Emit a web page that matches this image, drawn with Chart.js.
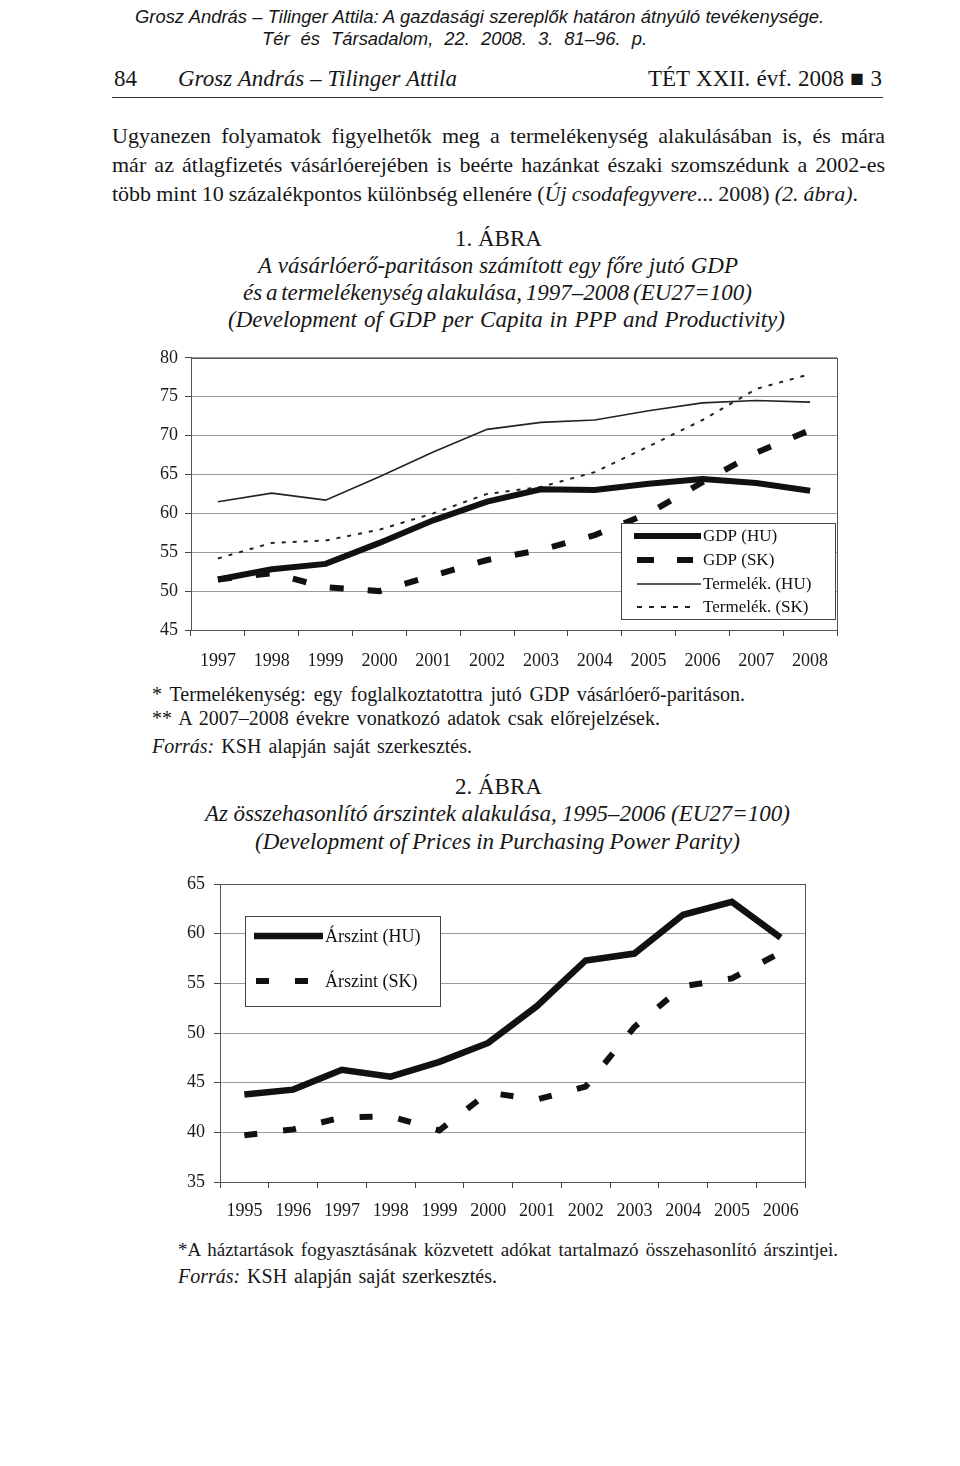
<!DOCTYPE html>
<html>
<head>
<meta charset="utf-8">
<script src="https://cdn.jsdelivr.net/npm/chart.js@4.4.1/dist/chart.umd.min.js"></script>
<style>
  body { margin: 0; background: #fff; width: 960px; height: 1466px; position: relative;
         font-family: "Liberation Serif", "Times New Roman", serif; color: #161616; overflow: hidden; }
  .t { position: absolute; white-space: nowrap; line-height: 1; }
  .j { position: absolute; white-space: nowrap; line-height: 1; }
  .sans { font-family: "Liberation Sans", Arial, sans-serif; font-style: italic; font-size: 18.4px; }
  .h { font-size: 23px; }
  .p { font-size: 22px; }
  .ti { font-size: 23px; font-style: italic; }
  .fn { font-size: 20px; }
  .rule { position: absolute; left: 112px; top: 97px; width: 771px; height: 1px; background: #333; }
  .box { position: absolute; }
</style>
</head>
<body>

<div class="j sans" data-w="689" style="left:135px; top:8px;">Grosz András – Tilinger Attila: A gazdasági szereplők határon átnyúló tevékenysége.</div>
<div class="j sans" data-w="385" style="left:262px; top:30px;">Tér és Társadalom, 22. 2008. 3. 81–96. p.</div>

<div class="t h" style="left:114px; top:67px;">84</div>
<div class="j h" data-w="279" style="left:178px; top:67px; font-style:italic;">Grosz András – Tilinger Attila</div>
<div class="j h" data-w="234" style="left:648px; top:67px;">TÉT XXII. évf. 2008 ■ 3</div>
<div class="rule"></div>

<div class="j p" data-w="773" style="left:112px; top:125px;">Ugyanezen folyamatok figyelhetők meg a termelékenység alakulásában is, és mára</div>
<div class="j p" data-w="773" style="left:112px; top:154px;">már az átlagfizetés vásárlóerejében is beérte hazánkat északi szomszédunk a 2002-es</div>
<div class="j p" data-w="746" style="left:112px; top:183px;">több mint 10 százalékpontos különbség ellenére (<i>Új csodafegyvere</i>... 2008) <i>(2. ábra)</i>.</div>

<div class="t h" style="left:455px; top:227px;">1. ÁBRA</div>
<div class="j ti" data-w="480" style="left:258px; top:254px;">A vásárlóerő-paritáson számított egy főre jutó GDP</div>
<div class="j ti" data-w="509" style="left:243px; top:281px;">és a termelékenység alakulása, 1997–2008 (EU27=100)</div>
<div class="j ti" data-w="557" style="left:228px; top:308px;">(Development of GDP per Capita in PPP and Productivity)</div>

<div class="box" style="left:150px; top:340px;"><canvas id="c1" width="700" height="340"></canvas></div>

<div class="j fn" data-w="593" style="left:152px; top:684px;">* Termelékenység: egy foglalkoztatottra jutó GDP vásárlóerő-paritáson.</div>
<div class="j fn" data-w="508" style="left:152px; top:708px;">** A 2007–2008 évekre vonatkozó adatok csak előrejelzések.</div>
<div class="j fn" data-w="320" style="left:152px; top:736px;"><i>Forrás:</i> KSH alapján saját szerkesztés.</div>

<div class="t h" style="left:455px; top:775px;">2. ÁBRA</div>
<div class="j ti" data-w="585" style="left:205px; top:802px;">Az összehasonlító árszintek alakulása, 1995–2006 (EU27=100)</div>
<div class="j ti" data-w="485" style="left:255px; top:830px;">(Development of Prices in Purchasing Power Parity)</div>

<div class="box" style="left:150px; top:860px;"><canvas id="c2" width="680" height="370"></canvas></div>

<div class="j fn" data-w="660" style="left:178px; top:1240px; font-size:19px;">*A háztartások fogyasztásának közvetett adókat tartalmazó összehasonlító árszintjei.</div>
<div class="j fn" data-w="319" style="left:178px; top:1266px;"><i>Forrás:</i> KSH alapján saját szerkesztés.</div>

<script>
// 1. ábra
const years1 = ['1997', '1998', '1999', '2000', '2001', '2002', '2003', '2004', '2005', '2006', '2007', '2008'];
const gdpHU = [51.5, 52.8, 53.5, 56.2, 59.1, 61.5, 63.1, 63.0, 63.8, 64.4, 63.9, 62.9];
const gdpSK = [51.5, 52.3, 50.5, 50.0, 52.0, 54.0, 55.3, 57.2, 60.0, 64.0, 67.8, 70.7];
const prodHU = [61.5, 62.6, 61.7, 64.7, 67.9, 70.8, 71.7, 72.0, 73.2, 74.2, 74.5, 74.3];
const prodSK = [54.2, 56.2, 56.5, 57.9, 60.0, 62.5, 63.4, 65.3, 68.6, 72.0, 76.0, 77.9];

// 2. ábra
const years2 = ['1995', '1996', '1997', '1998', '1999', '2000', '2001', '2002', '2003', '2004', '2005', '2006'];
const priceHU = [43.8, 44.3, 46.3, 45.6, 47.1, 49.0, 52.7, 57.3, 58.0, 61.9, 63.2, 59.6];
const priceSK = [39.7, 40.3, 41.5, 41.6, 40.2, 44.0, 43.3, 44.6, 50.6, 54.7, 55.5, 58.1];

// stretch the word gaps so each printed line keeps its width from the page
document.querySelectorAll('.j').forEach(el => {
  const target = parseFloat(el.dataset.w);
  const nat = el.getBoundingClientRect().width;
  const spaces = (el.textContent.match(/ /g) || []).length;
  if (spaces) el.style.wordSpacing = ((target - nat) / spaces) + 'px';
});

const tickFont = { family: 'Liberation Serif', size: 18 };

const plotBox = {
  id: 'plotBox',
  afterDraw(chart) {
    const a = chart.chartArea, ctx = chart.ctx;
    ctx.save();
    ctx.strokeStyle = '#555';
    ctx.lineWidth = 1;
    ctx.strokeRect(Math.round(a.left) + 0.5, Math.round(a.top) + 0.5,
                   Math.round(a.right - a.left), Math.round(a.bottom - a.top));
    ctx.restore();
  }
};

// legend box drawn inside the plot, like the Excel original
const boxLegend = {
  id: 'boxLegend',
  afterDraw(chart, args, o) {
    const ctx = chart.ctx;
    ctx.save();
    ctx.fillStyle = '#fff';
    ctx.fillRect(o.x, o.y, o.w, o.h);
    ctx.strokeStyle = '#444';
    ctx.lineWidth = 1;
    ctx.strokeRect(o.x + 0.5, o.y + 0.5, o.w, o.h);
    ctx.font = o.font;
    ctx.textBaseline = 'middle';
    chart.data.datasets.forEach((ds, i) => {
      const y = o.rows[i];
      const seg = ds.legendLine;
      ctx.strokeStyle = ds.borderColor;
      ctx.lineWidth = ds.borderWidth;
      ctx.setLineDash(ds.legendDash || []);
      ctx.beginPath();
      ctx.moveTo(seg[0], y);
      ctx.lineTo(seg[1], y);
      ctx.stroke();
      ctx.setLineDash([]);
      ctx.fillStyle = '#111';
      ctx.fillText(ds.label, o.textX, y + 1);
    });
    ctx.restore();
  }
};

function makeOptions(cfg) {
  return {
    responsive: false,
    animation: false,
    layout: { padding: { top: cfg.padTop, right: cfg.padRight, bottom: 0, left: 0 } },
    elements: { point: { radius: 0 }, line: { tension: 0 } },
    plugins: {
      legend: { display: false },
      tooltip: { enabled: false },
      boxLegend: cfg.legend
    },
    scales: {
      x: {
        type: 'category',
        offset: true,
        afterFit: s => { s.height = cfg.xHeight; },
        grid: { offset: true, drawOnChartArea: false, drawTicks: true, tickLength: 6, color: '#444' },
        border: { display: true, color: '#444' },
        ticks: { font: tickFont, color: '#1a1a1a', padding: cfg.xPad, maxRotation: 0, autoSkip: false }
      },
      y: {
        min: cfg.min, max: cfg.max,
        afterFit: s => { s.width = cfg.yWidth; },
        grid: { color: '#9a9a9a', tickLength: 6, tickColor: '#444' },
        border: { display: true, color: '#444' },
        ticks: { stepSize: 5, font: tickFont, color: '#1a1a1a', padding: cfg.yPad }
      }
    }
  };
}

new Chart(document.getElementById('c1'), {
  type: 'line',
  data: {
    labels: years1,
    datasets: [
      { label: 'GDP (HU)', data: gdpHU, borderColor: '#111', borderWidth: 6,
        legendLine: [484, 551] },
      { label: 'GDP (SK)', data: gdpSK, borderColor: '#111', borderWidth: 6, borderDash: [14, 24],
        legendLine: [487, 543], legendDash: [17, 23] },
      { label: 'Termelék. (HU)', data: prodHU, borderColor: '#222', borderWidth: 1.6,
        legendLine: [487, 551] },
      { label: 'Termelék. (SK)', data: prodSK, borderColor: '#222', borderWidth: 2, borderDash: [4, 7],
        legendLine: [487, 546], legendDash: [5, 7] }
    ]
  },
  options: makeOptions({
    min: 45, max: 80, padTop: 17, padRight: 13, xHeight: 50, yWidth: 41, xPad: 14, yPad: 7,
    legend: { x: 471, y: 183, w: 214, h: 96, rows: [196, 220, 244, 267], textX: 553,
              font: '17px "Liberation Serif"' }
  }),
  plugins: [plotBox, boxLegend]
});

new Chart(document.getElementById('c2'), {
  type: 'line',
  data: {
    labels: years2,
    datasets: [
      { label: 'Árszint (HU)', data: priceHU, borderColor: '#111', borderWidth: 6.5,
        legendLine: [104, 173] },
      { label: 'Árszint (SK)', data: priceSK, borderColor: '#111', borderWidth: 6, borderDash: [13, 26],
        legendLine: [106, 158], legendDash: [13, 26] }
    ]
  },
  options: makeOptions({
    min: 35, max: 65, padTop: 24, padRight: 25, xHeight: 48, yWidth: 70, xPad: 12, yPad: 9,
    legend: { x: 95, y: 56, w: 195, h: 90, rows: [76, 121], textX: 175,
              font: '18px "Liberation Serif"' }
  }),
  plugins: [plotBox, boxLegend]
});
</script>
</body>
</html>
